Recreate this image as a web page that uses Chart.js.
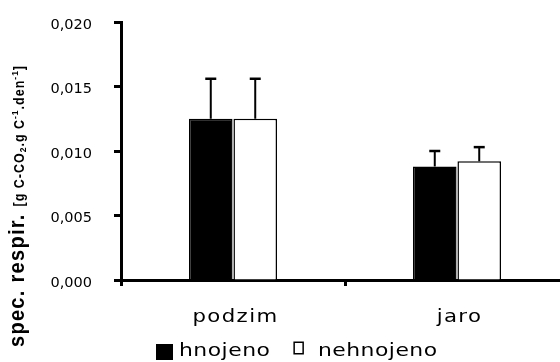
<!DOCTYPE html>
<html lang="cs">
<head>
<meta charset="utf-8">
<title>Specifická respirace</title>
<script src="https://cdn.jsdelivr.net/npm/chart.js@4/dist/chart.umd.min.js"></script>
<style>
  html, body { margin: 0; padding: 0; background: #fff; overflow: hidden; width: 560px; height: 362px; }
  canvas { position: absolute; left: 0; top: 0; }
</style>
</head>
<body>
<canvas id="c" width="572" height="362"></canvas>
<script>
// Období odběru
const seasons = ['podzim', 'jaro'];
// Specifická respirace [g C-CO2 . g C^-1 . den^-1]
const hnojeno = [0.0125, 0.0088];
const nehnojeno = [0.0125, 0.0092];
// Směrodatné odchylky (kreslí se jen nahoru)
const errHnojeno = [0.0031, 0.0012];
const errNehnojeno = [0.0031, 0.0011];
// Popisky osy y
const yTicks = [0, 0.005, 0.010, 0.015, 0.020];
const seriesNames = ['hnojeno', 'nehnojeno'];

const SANS = "'DejaVu Sans', Verdana, sans-serif";
const BOLD = "'Liberation Sans', Arial, sans-serif";

// Text roztažený vodorovně kolem kotevního bodu
function stretchedText(ctx, text, x, y, sx) {
  ctx.save();
  ctx.translate(x, y);
  ctx.scale(sx, 1);
  ctx.fillText(text, 0, 0);
  ctx.restore();
}

// Styl popisků os: rozestup písmen, roztažení a posun
const labelStyle = {
  x: { spacing: '1.1px', sx: 1.25, dx: 2.5, dy: 2 },
  y: { spacing: '0px', sx: 1.0, dx: 0, dy: 3 }
};

const tickLabelPlugin = {
  id: 'tickLabelStyle',
  beforeDraw(chart) {
    for (const id of Object.keys(labelStyle)) {
      const scale = chart.scales[id];
      if (!scale || scale.__styled) continue;
      const orig = scale.drawLabels;
      const st = labelStyle[id];
      scale.drawLabels = function (area) {
        const ctx = this.ctx;
        const baseFill = ctx.fillText;
        ctx.save();
        ctx.letterSpacing = st.spacing;
        ctx.translate(st.dx, st.dy);
        ctx.fillText = function (t, x, y) {
          this.save();
          this.translate(x, y);
          this.scale(st.sx, 1);
          baseFill.call(this, t, 0, 0);
          this.restore();
        };
        try {
          orig.call(this, area);
        } finally {
          delete ctx.fillText;
          ctx.restore();
        }
      };
      scale.__styled = true;
    }
  }
};

// Chybové úsečky nad sloupci
const errorBarPlugin = {
  id: 'errorBars',
  afterDatasetsDraw(chart) {
    const ctx = chart.ctx;
    const yScale = chart.scales.y;
    chart.data.datasets.forEach((ds, i) => {
      const meta = chart.getDatasetMeta(i);
      meta.data.forEach((bar, j) => {
        const top = yScale.getPixelForValue(ds.data[j] + ds.errors[j]);
        ctx.save();
        ctx.strokeStyle = '#000';
        ctx.lineWidth = 2;
        ctx.beginPath();
        ctx.moveTo(bar.x, bar.y);
        ctx.lineTo(bar.x, top);
        ctx.stroke();
        ctx.lineWidth = 2.5;
        ctx.beginPath();
        ctx.moveTo(bar.x - 5.5, top);
        ctx.lineTo(bar.x + 5.5, top);
        ctx.stroke();
        ctx.restore();
      });
    });
  }
};

// Svislý popisek osy y s dolními a horními indexy
const yTitlePlugin = {
  id: 'yTitle',
  afterDraw(chart) {
    const ctx = chart.ctx;
    const parts = [
      { t: 'spec. respir. ', size: 20, shift: 0, sp: 1.3 },
      { t: '[g C-CO', size: 12.5, shift: 0, sp: 1 },
      { t: '2', size: 8.5, shift: 2, sp: 1 },
      { t: '.g C', size: 12.5, shift: 0, sp: 1 },
      { t: '-1', size: 8.5, shift: -5, sp: 1 },
      { t: '.den', size: 12.5, shift: 0, sp: 1 },
      { t: '-1', size: 8.5, shift: -5, sp: 1 },
      { t: ']', size: 12.5, shift: 0, sp: 1 }
    ];
    ctx.save();
    ctx.translate(23.5, 347);
    ctx.rotate(-Math.PI / 2);
    ctx.scale(1, 1.12);
    ctx.fillStyle = '#000';
    ctx.textBaseline = 'alphabetic';
    ctx.textAlign = 'left';
    let x = 0;
    for (const p of parts) {
      ctx.font = 'bold ' + p.size + 'px ' + BOLD;
      ctx.letterSpacing = p.sp + 'px';
      ctx.fillText(p.t, x, p.shift);
      x += ctx.measureText(p.t).width;
    }
    ctx.restore();
  }
};

// Legenda pod osou x
const legendPlugin = {
  id: 'bottomLegend',
  afterDraw(chart) {
    const ctx = chart.ctx;
    const sx = 1.25;
    const items = [
      { box: { w: 17, h: 16, dy: -12 }, gapBox: 6, gapAfter: 23 },
      { box: { w: 10.5, h: 13, dy: -14.5 }, gapBox: 14, gapAfter: 0 }
    ];
    const baseline = 356;
    let x = 156;
    ctx.save();
    ctx.font = '17.5px ' + SANS;
    ctx.letterSpacing = '0.4px';
    ctx.textBaseline = 'alphabetic';
    ctx.textAlign = 'left';
    chart.data.datasets.forEach((ds, i) => {
      const it = items[i];
      const b = it.box;
      ctx.fillStyle = ds.backgroundColor;
      ctx.fillRect(x, baseline + b.dy, b.w, b.h);
      ctx.strokeStyle = '#000';
      ctx.lineWidth = 1.5;
      ctx.strokeRect(x + 0.75, baseline + b.dy + 0.75, b.w - 1.5, b.h - 1.5);
      x += b.w + it.gapBox;
      ctx.fillStyle = '#000';
      stretchedText(ctx, ds.label, x, baseline, sx);
      x += ctx.measureText(ds.label).width * sx + it.gapAfter;
    });
    ctx.restore();
  }
};

// Pevné rozměry os, bez automatického odsazení kvůli popiskům
function fixBox(size) {
  return function (scale) {
    if (scale.isHorizontal()) scale.height = size; else scale.width = size;
    scale.paddingTop = 0;
    scale.paddingBottom = 0;
    scale.paddingLeft = 0;
    scale.paddingRight = 0;
  };
}

new Chart(document.getElementById('c'), {
  type: 'bar',
  data: {
    labels: seasons,
    datasets: [
      {
        label: seriesNames[0],
        data: hnojeno,
        errors: errHnojeno,
        backgroundColor: '#000',
        borderColor: '#000',
        borderWidth: 1.5
      },
      {
        label: seriesNames[1],
        data: nehnojeno,
        errors: errNehnojeno,
        backgroundColor: '#fff',
        borderColor: '#000',
        borderWidth: 1.5
      }
    ]
  },
  options: {
    responsive: false,
    animation: false,
    categoryPercentage: 0.397,
    barPercentage: 0.98,
    layout: { padding: { top: 22, right: 3, left: 0, bottom: 0 } },
    plugins: {
      legend: { display: false },
      tooltip: { enabled: false }
    },
    scales: {
      x: {
        grid: {
          display: true,
          drawOnChartArea: false,
          drawTicks: true,
          tickLength: 6,
          tickWidth: 3,
          tickColor: '#000',
          offset: true
        },
        border: { display: true, color: '#000', width: 3 },
        ticks: {
          color: '#000',
          font: { family: SANS, size: 17 },
          padding: 19,
          maxRotation: 0
        },
        afterFit: fixBox(82)
      },
      y: {
        min: 0,
        max: 0.02,
        afterBuildTicks(scale) { scale.ticks = yTicks.map(v => ({ value: v })); },
        grid: {
          display: true,
          drawOnChartArea: false,
          drawTicks: true,
          tickLength: 7,
          tickWidth: 3,
          tickColor: '#000'
        },
        border: { display: true, color: '#000', width: 3 },
        ticks: {
          color: '#000',
          font: { family: SANS, size: 14.5 },
          padding: 22,
          callback: (v) => Number(v).toFixed(3).replace('.', ',')
        },
        afterFit: fixBox(121)
      }
    }
  },
  plugins: [tickLabelPlugin, errorBarPlugin, yTitlePlugin, legendPlugin]
});
</script>
</body>
</html>
